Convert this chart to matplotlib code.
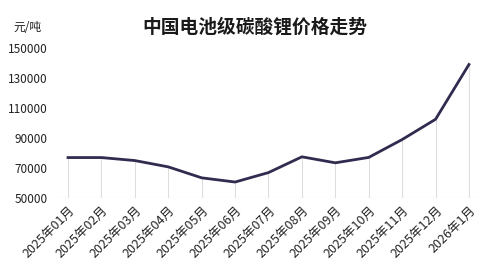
import matplotlib
matplotlib.use("Agg")
import matplotlib.pyplot as plt
import numpy as np

plt.rcParams["font.family"] = ["Noto Sans CJK SC", "DejaVu Sans"]

months = ["2025年01月", "2025年02月", "2025年03月", "2025年04月", "2025年05月",
          "2025年06月", "2025年07月", "2025年08月", "2025年09月", "2025年10月",
          "2025年11月", "2025年12月", "2026年1月"]
prices = [77000, 77000, 75000, 70800, 63500, 60700, 67000, 77500, 73500,
          77100, 89000, 102500, 139000]
yticks = [50000, 70000, 90000, 110000, 130000, 150000]

fig = plt.figure(figsize=(5.0, 2.71), dpi=100)
ax = fig.add_axes([0.106, 0.269, 0.864, 0.554])

x = np.arange(len(months))
ax.vlines(x, 50000, prices, color="#dcdcdc", lw=0.7, zorder=1)
ax.axhline(50000, color="#d9d9d9", lw=0.8, zorder=1)
ax.plot(x, prices, color="#2f2c4f", lw=2.0, solid_joinstyle="round", zorder=3)

ax.set_xlim(-0.45, 12.48)
ax.set_ylim(50000, 150000)
ax.set_yticks(yticks)
ax.set_yticklabels([str(v) for v in yticks], fontsize=8.5, color="#222222")
ax.set_xticks(x)
ax.set_xticklabels(months, rotation=45, ha="right", rotation_mode="anchor",
                   fontsize=9, color="#222222")
ax.tick_params(length=0, pad=4)
for s in ax.spines.values():
    s.set_visible(False)

fig.text(0.054, 0.9, "元/吨", fontsize=8.5, ha="center", va="center", color="#222222")
fig.text(0.51, 0.9, "中国电池级碳酸锂价格走势", fontsize=13.5, fontweight="bold",
         ha="center", va="center", color="#1a1a1a")

fig.savefig("out.png", dpi=100)
